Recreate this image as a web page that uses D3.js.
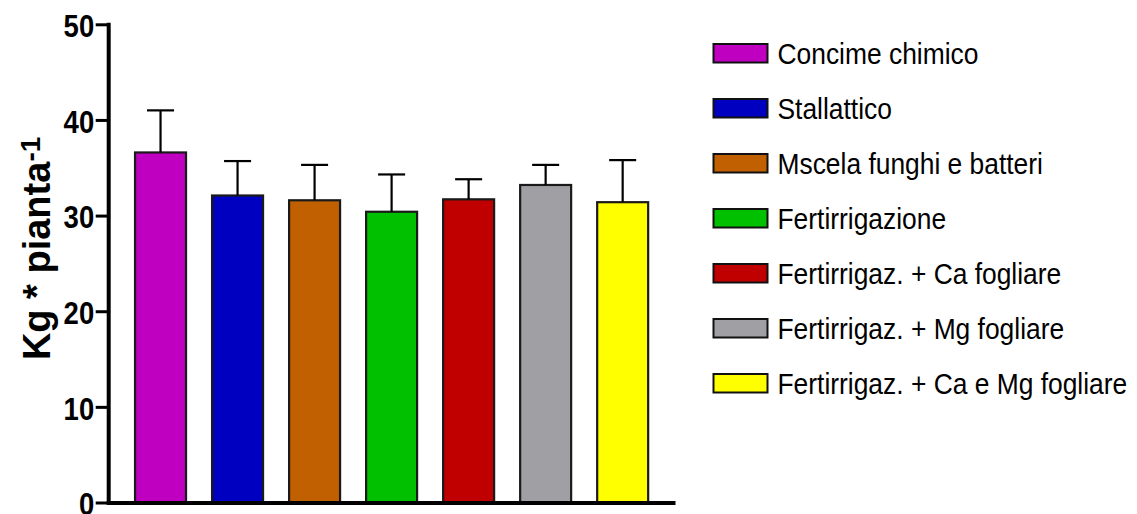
<!DOCTYPE html>
<html>
<head>
<meta charset="utf-8">
<script src="https://cdn.jsdelivr.net/npm/d3@7"></script>
<style>
  html, body { margin: 0; padding: 0; background: #fff; }
  svg { display: block; }
</style>
</head>
<body>
<svg id="chart" width="1137" height="514"></svg>
<script>
// Treatments, mean yield per plant and error bar length
const categories = [
  "Concime chimico",
  "Stallattico",
  "Mscela funghi e batteri",
  "Fertirrigazione",
  "Fertirrigaz. + Ca fogliare",
  "Fertirrigaz. + Mg fogliare",
  "Fertirrigaz. + Ca e Mg fogliare"
];
const means = [36.6, 32.1, 31.6, 30.4, 31.7, 33.2, 31.4];
const errors = [4.4, 3.6, 3.7, 3.9, 2.1, 2.1, 4.4];
const colors = ["#C000C0", "#0000C0", "#C06000", "#00C000", "#C00000", "#A0A0A4", "#FFFF00"];
const yTicks = [0, 10, 20, 30, 40, 50];

const svg = d3.select("#chart");
const plotLeft = 108.7, plotRight = 674.5, plotTop = 24.3, plotBottom = 502.5;

const x = d3.scaleBand()
  .domain(categories)
  .range([plotLeft, plotRight])
  .paddingInner(0.338)
  .paddingOuter(0.342);

const y = d3.scaleLinear().domain([0, 50]).range([plotBottom, plotTop]);

// Bars
svg.append("g").selectAll("rect")
  .data(categories)
  .join("rect")
  .attr("x", d => x(d))
  .attr("y", (d, i) => y(means[i]))
  .attr("width", x.bandwidth())
  .attr("height", (d, i) => y(0) - y(means[i]))
  .attr("fill", (d, i) => colors[i])
  .attr("stroke", "#1a1a1a")
  .attr("stroke-width", 2.2);

// Error bars (upper only)
const eb = svg.append("g").attr("stroke", "#000").attr("stroke-width", 2.2);
const capW = x.bandwidth() * 0.53;
categories.forEach((c, i) => {
  const cx = x(c) + x.bandwidth() / 2;
  eb.append("line")
    .attr("x1", cx).attr("x2", cx)
    .attr("y1", y(means[i])).attr("y2", y(means[i] + errors[i]));
  eb.append("line")
    .attr("x1", cx - capW / 2).attr("x2", cx + capW / 2)
    .attr("y1", y(means[i] + errors[i])).attr("y2", y(means[i] + errors[i]));
});

// Y axis
const yAxis = svg.append("g")
  .attr("transform", `translate(${plotLeft},0)`)
  .call(d3.axisLeft(y).tickValues(yTicks).tickSize(13).tickSizeOuter(0));
yAxis.select(".domain").attr("stroke", "#000").attr("stroke-width", 4)
  .attr("d", `M0,${plotTop - 1.5}V${plotBottom + 2}`);
yAxis.selectAll(".tick line").attr("stroke", "#000").attr("stroke-width", 3);
yAxis.selectAll(".tick text")
  .attr("x", 0)
  .attr("dy", null)
  .attr("dominant-baseline", "central")
  .attr("transform", "translate(-14.5,1) scale(0.86,1)")
  .attr("text-anchor", "end")
  .attr("fill", "#000")
  .style("font-family", "'Liberation Sans', Arial, sans-serif")
  .style("font-weight", "bold")
  .style("font-size", "32px");

// X axis baseline
svg.append("line")
  .attr("x1", plotLeft - 2).attr("x2", plotRight + 1)
  .attr("y1", y(0) + 0.5).attr("y2", y(0) + 0.5)
  .attr("stroke", "#000").attr("stroke-width", 4.2);

// Y axis title with superscript exponent
const yTitle = svg.append("text")
  .attr("transform", `translate(50,${(plotTop + plotBottom) / 2 - 15}) rotate(-90)`)
  .attr("text-anchor", "middle")
  .style("font-family", "'Liberation Sans', Arial, sans-serif")
  .style("font-weight", "bold")
  .style("font-size", "38px")
  .attr("fill", "#000");
yTitle.append("tspan").text("Kg * pianta");
yTitle.append("tspan").attr("dy", -10).style("font-size", "28px").text("-1");

// Legend
const legend = svg.append("g").attr("transform", "translate(713,53)");
const rows = legend.selectAll("g")
  .data(categories)
  .join("g")
  .attr("transform", (d, i) => `translate(0,${i * 55})`);
rows.append("rect")
  .attr("x", 0.5).attr("y", -9)
  .attr("width", 54).attr("height", 18.5)
  .attr("fill", (d, i) => colors[i])
  .attr("stroke", "#111")
  .attr("stroke-width", 2);
rows.append("text")
  .attr("transform", "translate(64.5,11) scale(0.91,1)")
  .style("font-family", "'Liberation Sans', Arial, sans-serif")
  .style("font-size", "29px")
  .attr("fill", "#000")
  .text(d => d);
</script>
</body>
</html>
